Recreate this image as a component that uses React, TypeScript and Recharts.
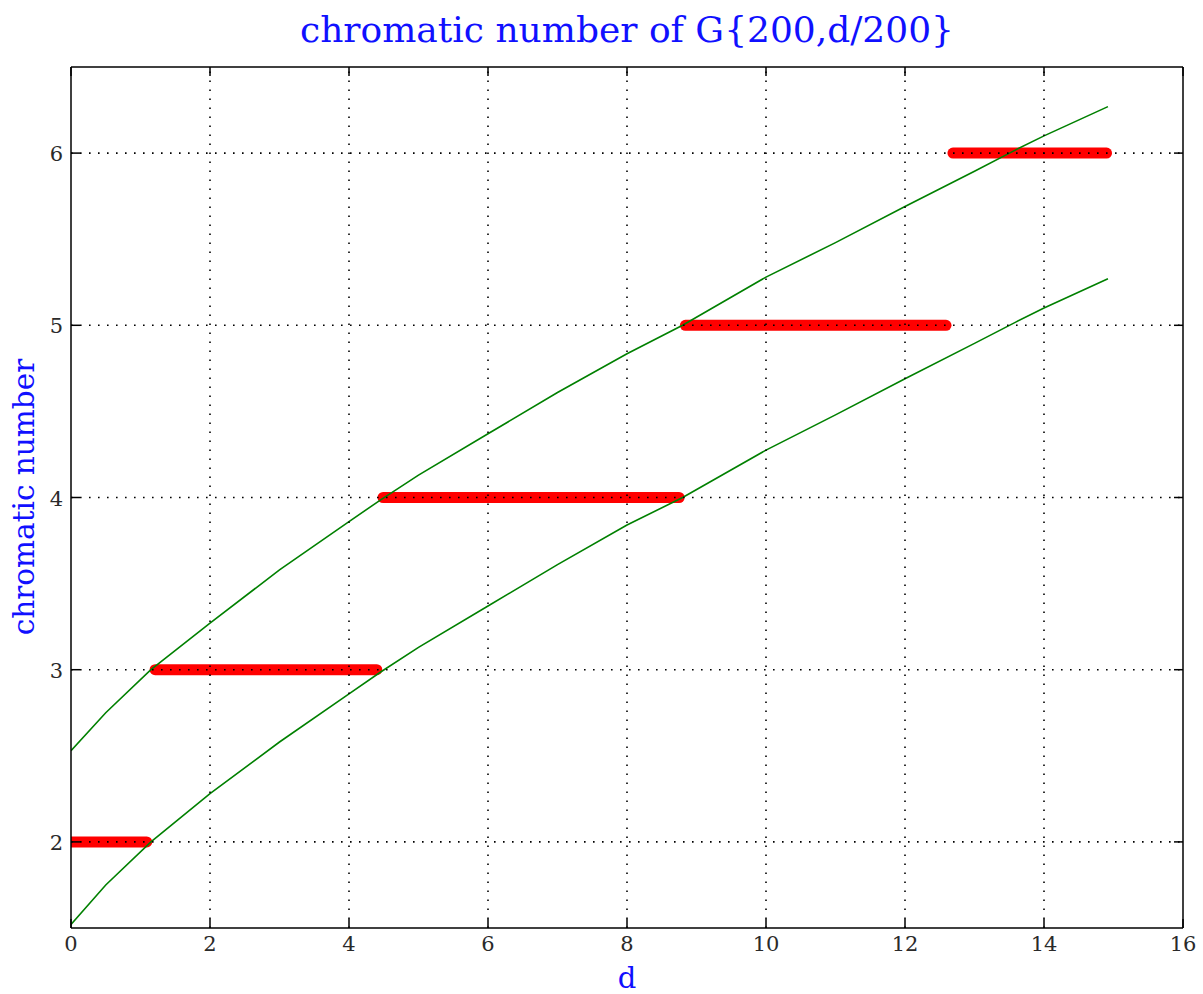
import React from 'react';
import { LineChart, Line, XAxis, YAxis, ReferenceLine } from 'recharts';

const dValues = [0, 0.5, 1.15, 2, 3, 4, 4.45, 5, 6, 7, 8, 8.8, 10, 11, 12, 13, 13.6, 14, 14.92];
const lowerCurve = [1.52, 1.75, 2.0, 2.28, 2.58, 2.86, 2.985, 3.13, 3.37, 3.61, 3.84, 4.0, 4.275, 4.48, 4.69, 4.895, 5.02, 5.1, 5.27];
const upperCurve = [2.53, 2.75, 3.0, 3.27, 3.58, 3.86, 3.985, 4.13, 4.37, 4.61, 4.835, 5.0, 5.28, 5.48, 5.69, 5.895, 6.02, 6.1, 6.27];

const segStart = [0, 1.21, 4.49, 8.84, 12.69];
const segEnd = [1.09, 4.4, 8.75, 12.59, 14.9];
const segValue = [2, 3, 4, 5, 6];

const xTicks = [0, 2, 4, 6, 8, 10, 12, 14, 16];
const yTicks = [2, 3, 4, 5, 6];

const lowerData = dValues.map((d, i) => ({ d, v: lowerCurve[i] }));
const upperData = dValues.map((d, i) => ({ d, v: upperCurve[i] }));
const segments = segValue.map((v, i) => [
  { d: segStart[i], v },
  { d: segEnd[i], v },
]);

const FONT = '"DejaVu Serif", serif';
const TICK_LEN = 9;

const BottomTick = (props: any) => {
  const { x, y, payload } = props;
  return (
    <g>
      <line x1={x} y1={y} x2={x} y2={y - TICK_LEN} stroke="#000" strokeWidth={1.5} />
      <text x={x} y={y + 23} textAnchor="middle" fontFamily={FONT} fontSize={21} fill="#2a2a2a">
        {payload.value}
      </text>
    </g>
  );
};

const TopTick = (props: any) => {
  const { x, y } = props;
  return <line x1={x} y1={y} x2={x} y2={y + TICK_LEN} stroke="#000" strokeWidth={1.5} />;
};

const LeftTick = (props: any) => {
  const { x, y, payload } = props;
  return (
    <g>
      <line x1={x} y1={y} x2={x + TICK_LEN} y2={y} stroke="#000" strokeWidth={1.5} />
      <text x={x - 8} y={y + 8} textAnchor="end" fontFamily={FONT} fontSize={21} fill="#2a2a2a">
        {payload.value}
      </text>
    </g>
  );
};

const RightTick = (props: any) => {
  const { x, y } = props;
  return <line x1={x} y1={y} x2={x - TICK_LEN} y2={y} stroke="#000" strokeWidth={1.5} />;
};

export default function App() {
  return (
    <div style={{ position: 'absolute', left: 0, top: 0, width: 1203, height: 994, background: '#fff', overflow: 'hidden' }}>
      <LineChart
        width={1203}
        height={994}
        margin={{ top: 66, right: 19, bottom: 36, left: 11 }}
      >
        <XAxis
          xAxisId="b"
          dataKey="d"
          type="number"
          domain={[0, 16]}
          ticks={xTicks}
          height={30}
          tickSize={0}
          tickMargin={0}
          tick={<BottomTick />}
          tickLine={false}
          axisLine={{ stroke: '#000', strokeWidth: 1.5 }}
          allowDataOverflow
          interval={0}
        />
        <XAxis
          xAxisId="t"
          orientation="top"
          dataKey="d"
          type="number"
          domain={[0, 16]}
          ticks={xTicks}
          height={1}
          tickSize={0}
          tickMargin={0}
          tick={<TopTick />}
          tickLine={false}
          axisLine={{ stroke: '#000', strokeWidth: 1.5 }}
          allowDataOverflow
          interval={0}
        />
        <YAxis
          yAxisId="l"
          type="number"
          domain={[1.5, 6.5]}
          ticks={yTicks}
          width={60}
          tickSize={0}
          tickMargin={0}
          tick={<LeftTick />}
          tickLine={false}
          axisLine={{ stroke: '#000', strokeWidth: 1.5 }}
          allowDataOverflow
          interval={0}
        />
        <YAxis
          yAxisId="r"
          orientation="right"
          type="number"
          domain={[1.5, 6.5]}
          ticks={yTicks}
          width={1}
          tickSize={0}
          tickMargin={0}
          tick={<RightTick />}
          tickLine={false}
          axisLine={{ stroke: '#000', strokeWidth: 1.5 }}
          allowDataOverflow
          interval={0}
        />
        {segments.map((seg, i) => (
          <Line
            key={'seg' + i}
            xAxisId="b"
            yAxisId="l"
            data={seg}
            dataKey="v"
            stroke="#ff0000"
            strokeWidth={11}
            strokeLinecap="round"
            dot={false}
            isAnimationActive={false}
          />
        ))}
        <Line
          xAxisId="b"
          yAxisId="l"
          data={lowerData}
          dataKey="v"
          type="linear"
          stroke="#008000"
          strokeWidth={1.6}
          dot={false}
          isAnimationActive={false}
        />
        <Line
          xAxisId="b"
          yAxisId="l"
          data={upperData}
          dataKey="v"
          type="linear"
          stroke="#008000"
          strokeWidth={1.6}
          dot={false}
          isAnimationActive={false}
        />
        {xTicks.slice(1, -1).map((t) => (
          <ReferenceLine
            key={'gx' + t}
            xAxisId="b"
            yAxisId="l"
            x={t}
            stroke="#000"
            strokeWidth={1.6}
            strokeDasharray="1.6 7.4"
          />
        ))}
        {yTicks.map((t) => (
          <ReferenceLine
            key={'gy' + t}
            xAxisId="b"
            yAxisId="l"
            y={t}
            stroke="#000"
            strokeWidth={1.6}
            strokeDasharray="1.6 7.4"
          />
        ))}
      </LineChart>
      <div
        style={{
          position: 'absolute',
          left: 71,
          width: 1112,
          top: 8,
          textAlign: 'center',
          fontFamily: FONT,
          fontSize: 36,
          color: '#1010ff',
          lineHeight: '44px',
        }}
      >
        chromatic number of G{'{'}200,d/200{'}'}
      </div>
      <div
        style={{
          position: 'absolute',
          left: 71,
          width: 1112,
          top: 963,
          textAlign: 'center',
          fontFamily: FONT,
          fontSize: 29,
          color: '#1010ff',
          lineHeight: '30px',
        }}
      >
        d
      </div>
      <div
        style={{
          position: 'absolute',
          left: 24,
          top: 497,
          transform: 'translate(-50%, -50%) rotate(-90deg)',
          whiteSpace: 'nowrap',
          fontFamily: FONT,
          fontSize: 29.5,
          color: '#1010ff',
          lineHeight: '36px',
        }}
      >
        chromatic number
      </div>
    </div>
  );
}
